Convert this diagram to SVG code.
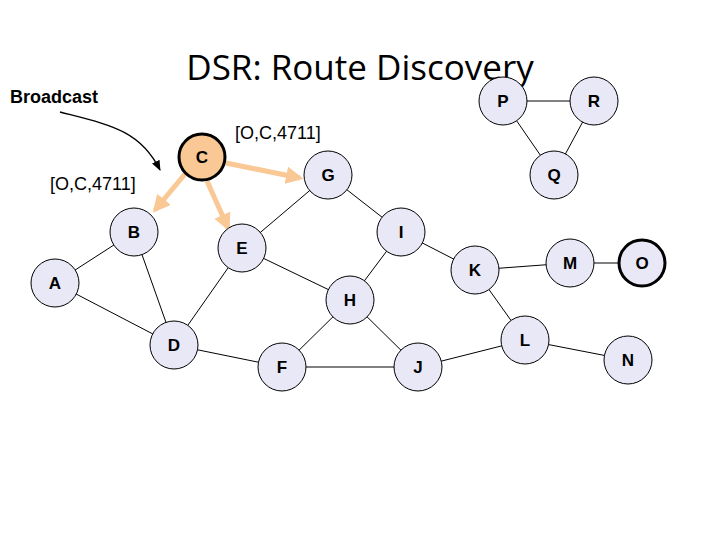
<svg xmlns="http://www.w3.org/2000/svg" width="720" height="540" viewBox="0 0 720 540">
<style>
.n{fill:#e8e8f6;stroke:#000;stroke-width:1}
.t{font-family:"Liberation Sans",Arial,sans-serif;font-weight:bold;font-size:17px;text-anchor:middle;dominant-baseline:central}
.l{font-family:"Liberation Sans",Arial,sans-serif;font-size:18px}
.e{stroke:#000;stroke-width:1;fill:none}
.o{stroke:#f9c894;stroke-width:5;fill:none;marker-end:url(#oa)}
</style>
<defs>
<marker id="oa" viewBox="0 0 10 10" refX="8" refY="5" markerWidth="3.5" markerHeight="3.5" orient="auto"><path d="M0,0L10,5L0,10z" fill="#f9c894"/></marker>
<marker id="ba" viewBox="0 0 10 10" refX="9" refY="5" markerWidth="8" markerHeight="8" orient="auto"><path d="M0,1L10,5L0,9z" fill="#000"/></marker>
</defs>
<rect width="720" height="540" fill="#fff"/>
<text x="360" y="80" font-family="Open Sans,sans-serif" font-size="35" text-anchor="middle">DSR: Route Discovery</text>
<text x="10" y="103" font-family="Liberation Sans,Arial,sans-serif" font-weight="bold" font-size="18">Broadcast</text>
<text class="l" x="235" y="139">[O,C,4711]</text>
<text class="l" x="50" y="190">[O,C,4711]</text>
<g id="connectors">
<path d="M60,112 C110,125 140,130 160,170" stroke="#000" stroke-width="1.3" fill="none" marker-end="url(#ba)"/>
<line class="e" x1="503" y1="101" x2="594" y2="101"/>
<line class="e" x1="503" y1="101" x2="554" y2="175"/>
<line class="e" x1="594" y1="101" x2="554" y2="175"/>
<line class="e" x1="55" y1="283" x2="134" y2="232"/>
<line class="e" x1="55" y1="283" x2="174" y2="345"/>
<line class="e" x1="134" y1="232" x2="174" y2="345"/>
<line class="e" x1="242" y1="248" x2="174" y2="345"/>
<line class="e" x1="174" y1="345" x2="282" y2="367"/>
<line class="e" x1="242" y1="248" x2="328" y2="175"/>
<line class="e" x1="242" y1="248" x2="350" y2="300"/>
<line class="e" x1="328" y1="175" x2="401" y2="232"/>
<line class="e" x1="401" y1="232" x2="350" y2="300"/>
<line class="e" x1="350" y1="300" x2="282" y2="367"/>
<line class="e" x1="350" y1="300" x2="418" y2="367"/>
<line class="e" x1="282" y1="367" x2="418" y2="367"/>
<line class="e" x1="401" y1="232" x2="475" y2="270"/>
<line class="e" x1="475" y1="270" x2="570" y2="263"/>
<line class="e" x1="570" y1="263" x2="642" y2="263"/>
<line class="e" x1="475" y1="270" x2="525" y2="340"/>
<line class="e" x1="525" y1="340" x2="418" y2="367"/>
<line class="e" x1="525" y1="340" x2="628" y2="360"/>
<line class="o" x1="185" y1="174" x2="155" y2="210"/>
<line class="o" x1="207" y1="181" x2="228" y2="228"/>
<line class="o" x1="226" y1="163" x2="300" y2="178"/>
</g>
<g id="P"><circle class="n" cx="503" cy="101" r="24"/><text class="t" x="503" y="101">P</text></g>
<g id="R"><circle class="n" cx="594" cy="101" r="24"/><text class="t" x="594" y="101">R</text></g>
<g id="Q"><circle class="n" cx="554" cy="175" r="24"/><text class="t" x="554" y="175">Q</text></g>
<g id="C"><circle cx="202" cy="157" r="23" fill="#f9c894" stroke="#000" stroke-width="3"/><text class="t" x="202" y="157">C</text></g>
<g id="G"><circle class="n" cx="328" cy="175" r="24"/><text class="t" x="328" y="175">G</text></g>
<g id="B"><circle class="n" cx="134" cy="232" r="24"/><text class="t" x="134" y="232">B</text></g>
<g id="E"><circle class="n" cx="242" cy="248" r="24"/><text class="t" x="242" y="248">E</text></g>
<g id="I"><circle class="n" cx="401" cy="232" r="24"/><text class="t" x="401" y="232">I</text></g>
<g id="A"><circle class="n" cx="55" cy="283" r="24"/><text class="t" x="55" y="283">A</text></g>
<g id="H"><circle class="n" cx="350" cy="300" r="24"/><text class="t" x="350" y="300">H</text></g>
<g id="K"><circle class="n" cx="475" cy="270" r="24"/><text class="t" x="475" y="270">K</text></g>
<g id="M"><circle class="n" cx="570" cy="263" r="24"/><text class="t" x="570" y="263">M</text></g>
<g id="O"><circle cx="642" cy="263" r="23" fill="#e8e8f6" stroke="#000" stroke-width="3"/><text class="t" x="642" y="263">O</text></g>
<g id="D"><circle class="n" cx="174" cy="345" r="24"/><text class="t" x="174" y="345">D</text></g>
<g id="F"><circle class="n" cx="282" cy="367" r="24"/><text class="t" x="282" y="367">F</text></g>
<g id="J"><circle class="n" cx="418" cy="367" r="24"/><text class="t" x="418" y="367">J</text></g>
<g id="L"><circle class="n" cx="525" cy="340" r="24"/><text class="t" x="525" y="340">L</text></g>
<g id="N"><circle class="n" cx="628" cy="360" r="24"/><text class="t" x="628" y="360">N</text></g>
</svg>
